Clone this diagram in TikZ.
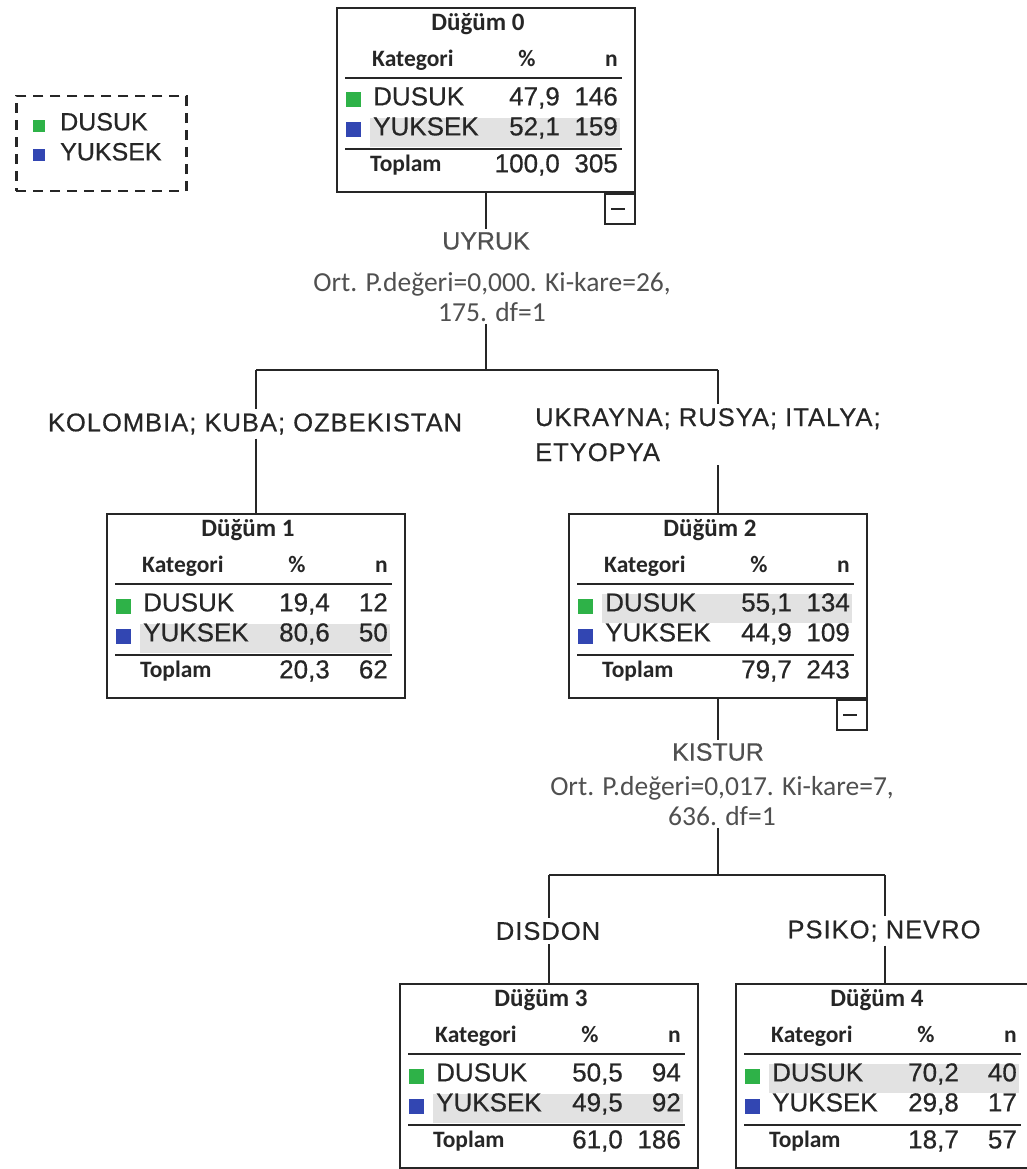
\documentclass[tikz,border=0pt]{standalone}
\usepackage{fontspec}
\setmainfont{Carlito}
\newfontfamily\capsfont[FakeBold=0.5]{Liberation Sans}
\newfontfamily\branchfont[FakeBold=0.5, LetterSpace=4]{Liberation Sans}

\definecolor{dusukgreen}{RGB}{46,178,72}
\definecolor{yuksekblue}{RGB}{50,70,178}
\definecolor{rowshade}{RGB}{226,226,226}
\definecolor{ink}{RGB}{38,38,38}
\definecolor{statgray}{RGB}{80,80,80}

\tikzset{
  frame/.style={draw=ink, line width=2pt, fill=white, inner sep=0pt,
    minimum width=298pt, minimum height=184pt, anchor=north west},
  rule/.style={draw=ink, line width=2.2pt},
  link/.style={draw=ink, line width=2.2pt},
  head/.style={font=\fontsize{25}{28}\selectfont\bfseries, text=ink, inner sep=0pt},
  colhead/.style={font=\fontsize{23.5}{28}\selectfont\bfseries, text=ink, inner sep=0pt},
  cell/.style={font=\capsfont\fontsize{26}{30}\selectfont, text=ink, inner sep=0pt},
  varname/.style={font=\capsfont\fontsize{25}{30}\selectfont, text=statgray, inner sep=3pt},
  stat/.style={font=\fontsize{27.5}{30}\selectfont, text=statgray, align=center, inner sep=2pt},
  branch/.style={font=\branchfont\fontsize{25.5}{35}\selectfont, text=ink, inner sep=4pt},
  legendbox/.style={draw=ink, line width=2.5pt, dash pattern=on 10pt off 7pt,
    minimum width=170pt, minimum height=95pt, anchor=north west, inner sep=0pt},
  swatch/.style={inner sep=0pt, minimum size=15pt},
  collapse/.style={draw=ink, line width=2pt, fill=white, minimum size=30pt,
    inner sep=0pt, anchor=north east},
}

% Frame of one tree node: #1 number, #2 #3 top-left corner, #4 shaded row (1 or 2)
\newcommand\nodeframe[4]{%
  \begin{scope}[shift={(#2,#3)}]
    \node[frame] (n#1) at (0,0) {};
    \fill[rowshade] (34,{51+30*#4}) rectangle (284,{80+30*#4});
    \node[head, anchor=center] (n#1-title) at (142,17) {Düğüm #1};
    \node[colhead, anchor=mid west] (n#1-kat) at (36,57) {Kategori};
    \node[colhead, anchor=mid] (n#1-pct) at (191,57) {\%};
    \node[colhead, anchor=mid east] (n#1-n) at (282,57) {n};
    \draw[rule] (9,71) -- (286,71);
    \node[swatch, fill=dusukgreen] (n#1-sq1) at (17,93) {};
    \node[swatch, fill=yuksekblue] (n#1-sq2) at (17,123) {};
    \node[cell, anchor=mid west] (n#1-c1) at (37,96) {DUSUK};
    \node[cell, anchor=mid west] (n#1-c2) at (37,126) {YUKSEK};
    \draw[rule] (9,142) -- (286,142);
    \node[colhead, anchor=mid west] (n#1-tot) at (34,162) {Toplam};
  \end{scope}}

% Values of one tree node: #1 number, #2 #3 top-left corner, then the six figures
\newcommand\nodefigures[9]{%
  \begin{scope}[shift={(#2,#3)}]
    \node[cell, anchor=mid east] (n#1-p1) at (224,96) {#4};
    \node[cell, anchor=mid east] (n#1-k1) at (282,96) {#5};
    \node[cell, anchor=mid east] (n#1-p2) at (224,126) {#6};
    \node[cell, anchor=mid east] (n#1-k2) at (282,126) {#7};
    \node[cell, anchor=mid east] (n#1-pt) at (224,163) {#8};
    \node[cell, anchor=mid east] (n#1-kt) at (282,163) {#9};
  \end{scope}}

\begin{document}
\begin{tikzpicture}[x=1pt, y=-1pt]
  \useasboundingbox[fill=white] (0,0) rectangle (1027,1169);

  % legend
  \node[legendbox] (legend) at (15,95) {};
  \node[swatch, minimum size=12pt, fill=dusukgreen] (leg-sq1) at (39,126) {};
  \node[swatch, minimum size=12pt, fill=yuksekblue] (leg-sq2) at (39,155) {};
  \node[cell, font=\capsfont\fontsize{25}{30}\selectfont, anchor=mid west] (leg-t1) at (60,128) {DUSUK};
  \node[cell, font=\capsfont\fontsize{25}{30}\selectfont, anchor=mid west] (leg-t2) at (60,158) {YUKSEK};

  % tree nodes
  \nodeframe{0}{336}{7}{2}
  \nodefigures{0}{336}{7}{47,9}{146}{52,1}{159}{100,0}{305}
  \nodeframe{1}{106}{513}{2}
  \nodefigures{1}{106}{513}{19,4}{12}{80,6}{50}{20,3}{62}
  \nodeframe{2}{568}{513}{1}
  \nodefigures{2}{568}{513}{55,1}{134}{44,9}{109}{79,7}{243}
  \nodeframe{3}{399}{983}{2}
  \nodefigures{3}{399}{983}{50,5}{94}{49,5}{92}{61,0}{186}
  \nodeframe{4}{735}{983}{1}
  \nodefigures{4}{735}{983}{70,2}{40}{29,8}{17}{18,7}{57}

  % collapse markers
  \node[collapse] (n0-minus) at (n0.south east) {};
  \draw[line width=2.5pt, draw=ink] ([xshift=-9pt]n0-minus.center) -- ([xshift=5pt]n0-minus.center);
  \node[collapse] (n2-minus) at (n2.south east) {};
  \draw[line width=2.5pt, draw=ink] ([xshift=-9pt]n2-minus.center) -- ([xshift=5pt]n2-minus.center);

  % first split
  \node[varname] (uyruk) at (486,241) {UYRUK};
  \node[stat] (uyruk-stat) at (492,297) {Ort. P.değeri=0,000. Ki-kare=26,\\175. df=1};
  \coordinate (split0) at (485,370);
  \node[branch] (kolombia) at (255,424) {KOLOMBIA; KUBA; OZBEKISTAN};
  \node[branch, align=left, anchor=north west] (ukrayna) at (531,404) {UKRAYNA; RUSYA; ITALYA;\\ETYOPYA};

  \draw[link] (n0.south) -- (n0.south |- uyruk.north);
  \draw[link] (n0.south |- uyruk-stat.south) -- (n0.south |- split0);
  \draw[link] (n1.north |- split0) -- (n2.north |- split0);
  \draw[link] (n1.north |- split0) -- (n1.north |- kolombia.north);
  \draw[link] (n1.north |- kolombia.south) -- (n1.north);
  \draw[link] (n2.north |- split0) -- (n2.north |- ukrayna.north);
  \draw[link] (n2.north |- ukrayna.south) -- (n2.north);

  % second split
  \node[varname] (kistur) at (718,752) {KISTUR};
  \node[stat] (kistur-stat) at (722,801) {Ort. P.değeri=0,017. Ki-kare=7,\\636. df=1};
  \coordinate (split1) at (717,875);
  \node[branch] (disdon) at (548,931) {DISDON};
  \node[branch] (psiko) at (884,931) {PSIKO; NEVRO};

  \draw[link] (n2.south) -- (n2.south |- kistur.north);
  \draw[link] (n2.south |- kistur-stat.south) -- (n2.south |- split1);
  \draw[link] (n3.north |- split1) -- (n4.north |- split1);
  \draw[link] (n3.north |- split1) -- (n3.north |- disdon.north);
  \draw[link] (n3.north |- disdon.south) -- (n3.north);
  \draw[link] (n4.north |- split1) -- (n4.north |- psiko.north);
  \draw[link] (n4.north |- psiko.south) -- (n4.north);
\end{tikzpicture}
\end{document}
